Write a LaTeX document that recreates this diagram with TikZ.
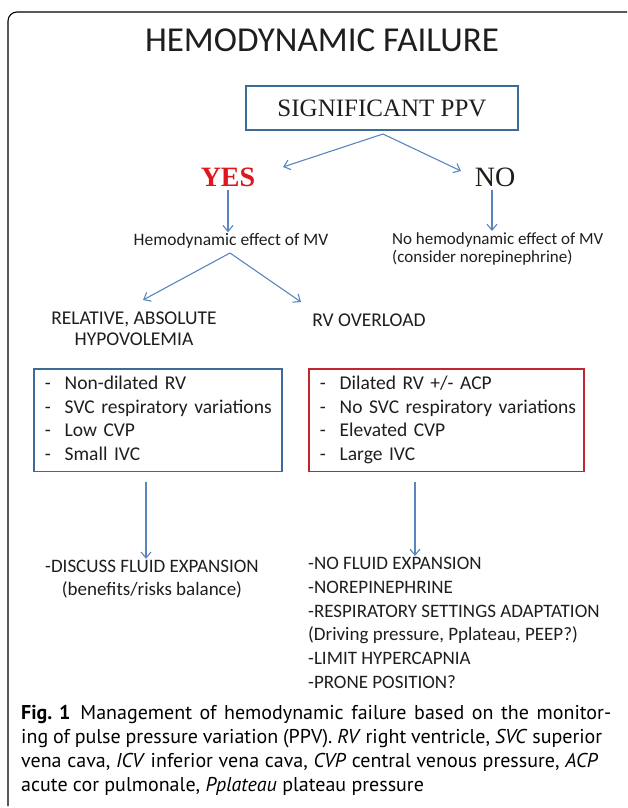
\documentclass[tikz,border=0pt]{standalone}
\usepackage{fontspec}
\usepackage{tikz}
\usetikzlibrary{arrows.meta, positioning}
\setmainfont{Carlito}
\newfontfamily\ppvfont{Liberation Serif}
\newfontfamily\capfont{PT Sans}
\definecolor{arrowblue}{HTML}{5A86BE}
\definecolor{boxblue}{HTML}{3E6A99}
\definecolor{boxred}{HTML}{C0262D}
\definecolor{yesred}{HTML}{E0161D}
\definecolor{ink}{HTML}{1E1E1E}
\tikzstyle{arr}=[-{Straight Barb[length=6pt,width=10pt]},line width=1.1pt,color=arrowblue]
\tikzstyle{label}=[text=ink,font=\fontsize{17.5}{20}\selectfont,inner sep=1pt]
\tikzstyle{biglabel}=[text=ink,font=\fontsize{19.5}{22}\selectfont,inner sep=1pt]
\tikzstyle{listbox}=[line width=1.5pt,anchor=north west,text width=226pt,minimum height=100pt,
  inner xsep=11pt,inner ysep=4pt,text=ink,font=\fontsize{19.5}{23.7}\selectfont,align=left]

\begin{document}
\begin{tikzpicture}[x=1pt,y=-1pt]
  \useasboundingbox (0,0) rectangle (628,808);
  \draw[line width=1.1pt,rounded corners=9pt] (627,12) -- (8,12) -- (8,806);
  % top of the tree
  \node[text=ink,font=\fontsize{35}{38}\selectfont] (title) at (322,40) {HEMODYNAMIC FAILURE};
  \node[draw=boxblue,line width=1.5pt,minimum width=272pt,minimum height=44pt,text=ink,
    font=\ppvfont\fontsize{25}{28}\selectfont] (ppv) at (382,108) {SIGNIFICANT PPV};
  \node[text=yesred,font=\ppvfont\bfseries\fontsize{28}{30}\selectfont] (yes) at (228,177) {YES};
  \node[text=ink,font=\ppvfont\fontsize{28}{30}\selectfont] (no) at (495,177) {NO};
  \coordinate (ppvsplit) at (383,134);
  \coordinate (yestip) at (283,167);
  \coordinate (notip) at (461,171);
  \draw[arr] (ppvsplit) -- (yestip);
  \draw[arr] (ppvsplit) -- (notip);
  % second level
  \node[label] (effect) at (231,241) {Hemodynamic effect of MV};
  \node[label,anchor=north west,align=left,font=\fontsize{17}{18}\selectfont] (noeffect) at (391,231)
    {No hemodynamic effect of MV\\(consider norepinephrine)};
  \draw[arr] (yes.south) -- (yes.south |- effect.north);
  \draw[arr] ([xshift=-3pt]no.south) -- ([xshift=-3pt]no.south |- noeffect.north);
  \coordinate (effsplit) at (230,253);
  \coordinate (hypotip) at (143,300);
  \coordinate (rvtip) at (301,302);
  \draw[arr] (effsplit) -- (hypotip);
  \draw[arr] (effsplit) -- (rvtip);
  \node[biglabel,align=center,font=\fontsize{19.5}{21}\selectfont] (hypo) at (134,329) {RELATIVE, ABSOLUTE\\HYPOVOLEMIA};
  \node[biglabel] (rv) at (369,320) {RV OVERLOAD};
  % echo findings
  \node[listbox,draw=boxblue] (hypobox) at (33,368)
    {\begin{tabular}{@{}l@{\hspace{14pt}}l@{}}
      - & Non-dilated RV\\
      - & SVC respiratory variations\\
      - & Low CVP\\
      - & Small IVC
    \end{tabular}};
  \node[listbox,draw=boxred,text width=253pt] (rvbox) at (308,368)
    {\begin{tabular}{@{}l@{\hspace{14pt}}l@{}}
      - & Dilated RV +/- ACP\\
      - & No SVC respiratory variations\\
      - & Elevated CVP\\
      - & Large IVC
    \end{tabular}};
  % what to do
  \node[biglabel,align=center,font=\fontsize{19}{23}\selectfont] (hypoact) at (152,579)
    {-DISCUSS FLUID EXPANSION\\(benefits/risks balance)};
  \node[biglabel,anchor=north west,align=left,font=\fontsize{19}{23.8}\selectfont] (rvact) at (307,556)
    {-NO FLUID EXPANSION\\-NOREPINEPHRINE\\-RESPIRATORY SETTINGS ADAPTATION\\
     (Driving pressure, Pplateau, PEEP?)\\-LIMIT HYPERCAPNIA\\-PRONE POSITION?};
  \coordinate (hypoout) at (146,482);
  \coordinate (rvout) at (415,482);
  \draw[arr] (hypoout) -- (hypoout |- hypoact.north);
  \draw[arr] (rvout) -- (rvout |- rvact.north);
  % caption
  \node[anchor=north west,align=left,inner sep=0pt,font=\capfont\fontsize{20}{24}\selectfont] (caption) at (21,705)
    {\makebox[590pt][s]{\textbf{\mbox{Fig. 1}}\enspace Management of hemodynamic failure based on the monitor-}\\
     \makebox[581pt][s]{ing of pulse pressure variation (PPV). \textit{RV} right ventricle, \textit{SVC} superior}\\
     \makebox[577pt][s]{vena cava, \textit{ICV} inferior vena cava, \textit{CVP} central venous pressure, \textit{ACP}}\\
     acute cor pulmonale, \textit{Pplateau} plateau pressure};
\end{tikzpicture}
\end{document}
